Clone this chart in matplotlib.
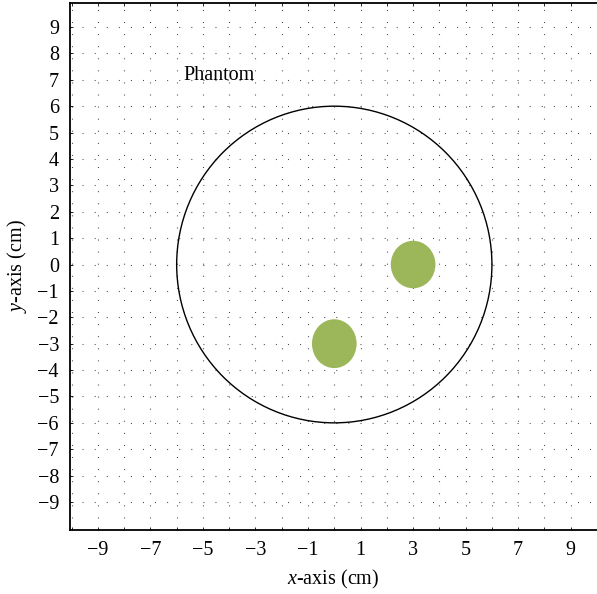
import numpy as np
import matplotlib
matplotlib.use("Agg")
import matplotlib.pyplot as plt
from matplotlib.patches import Circle, Ellipse

plt.rcParams['font.family'] = ['Liberation Serif', 'DejaVu Serif']
plt.rcParams['mathtext.fontset'] = 'custom'
plt.rcParams['mathtext.rm'] = 'Liberation Serif'
plt.rcParams['mathtext.it'] = 'Liberation Serif:italic'
plt.rcParams['lines.scale_dashes'] = False

# phantom geometry (cm)
phantom_center = (0.0, 0.0)
phantom_radius = 6.0
inclusion_x = [3.0, 0.0]
inclusion_y = [0.0, -3.0]
inclusion_w = [1.7, 1.7]
inclusion_h = [1.8, 1.85]
inclusion_color = "#9bb75a"

x_major = [-9, -7, -5, -3, -1, 1, 3, 5, 7, 9]
x_minor = list(range(-10, 11))
y_major = list(range(-9, 10))

fig = plt.figure(figsize=(5.97, 5.94), dpi=100)
W, H = 597, 594
ax = fig.add_axes([70 / W, (H - 530) / H, (597 - 70) / W, (530 - 3) / H])
ax.set_xlim(-10.06, 9.95)
ax.set_ylim(-10.06, 9.91)

# sparse dotted grid at every integer position
for gx in x_minor:
    ax.axvline(gx, color="#444444", lw=0.8, dashes=(0.7, 8.0), zorder=0)
for gy in y_major:
    ax.axhline(gy, color="#444444", lw=0.8, dashes=(0.7, 8.0), zorder=0)

ax.add_patch(Circle(phantom_center, phantom_radius, fill=False,
                    ec="black", lw=1.0, zorder=2))
for cx, cy, w, h in zip(inclusion_x, inclusion_y, inclusion_w, inclusion_h):
    ax.add_patch(Ellipse((cx, cy), w, h, color=inclusion_color, lw=0, zorder=3))

ax.text(-5.75, 7.15, "Phantom", fontsize=14.5, va="center", ha="left")

ax.set_xticks(x_major)
ax.set_xticks(x_minor, minor=True)
ax.set_yticks(y_major)
ax.set_xticklabels([f"\u2212{abs(v)}" if v < 0 else str(v) for v in x_major])
ax.set_yticklabels([f"\u2212{abs(v)}" if v < 0 else str(v) for v in y_major])
ax.tick_params(axis="both", which="both", direction="in", length=2.5,
               width=0.6, labelsize=14.5, top=True)
ax.tick_params(axis="x", which="major", pad=8)
ax.tick_params(axis="y", which="major", pad=8)

ax.spines["right"].set_visible(False)
for s in ["left", "bottom", "top"]:
    ax.spines[s].set_linewidth(1.3)

ax.set_xlabel(r"$x$-axis (cm)", fontsize=14.5, labelpad=6)
ax.set_ylabel(r"$y$-axis (cm)", fontsize=14.5, labelpad=6)

fig.savefig("out.png", dpi=100)
